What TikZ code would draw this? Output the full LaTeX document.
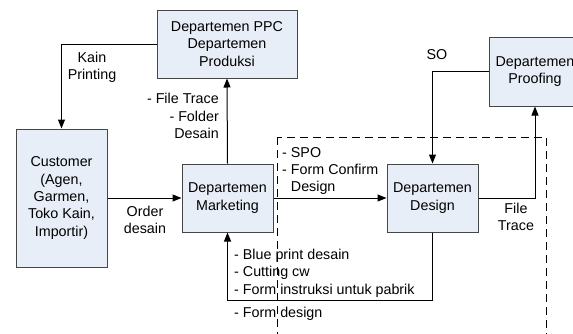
\documentclass[tikz,border=0pt]{standalone}
\usepackage{fontspec}
\setmainfont{Liberation Sans}
\usetikzlibrary{arrows.meta}
\definecolor{boxfill}{RGB}{232,238,247}
\definecolor{boxline}{RGB}{70,70,70}
\tikzset{
  dept/.style={draw=boxline, line width=1pt, fill=boxfill, align=center, inner sep=0pt,
    font=\fontsize{14.3}{17.3}\selectfont},
  lbl/.style={font=\fontsize{14.3}{17.3}\selectfont, inner sep=0pt},
  flow/.style={draw=black, line width=1pt, -{Triangle[length=9pt,width=7pt]}},
  zone/.style={draw=black, line width=1pt, dash pattern=on 8pt off 5pt}
}
\begin{document}
\begin{tikzpicture}[x=1pt,y=-1pt]
\useasboundingbox (0,0) rectangle (573,333);
\clip (0,0) rectangle (573,333);
% nodes
\node[dept, minimum width=140pt, minimum height=68pt] (ppc) at (227,44) {Departemen PPC\\Departemen\\Produksi};
\node[dept, minimum width=91pt, minimum height=138pt] (cust) at (61.5,198) {Customer\\(Agen,\\Garmen,\\Toko Kain,\\Importir)};
\node[dept, minimum width=91pt, minimum height=68pt] (mkt) at (227.5,198) {Departemen\\Marketing};
\node[dept, minimum width=91pt, minimum height=68pt] (des) at (432.5,198) {Departemen\\Design};
\node[dept, minimum width=92pt, minimum height=69pt] (prf) at (535,71.5) {Departemen\\Proofing};
% coordinates
\coordinate (c1) at (61.5,44);
\coordinate (c2) at (432.5,71.5);
\coordinate (c3) at (535,198);
\coordinate (c4) at (432.5,300);
\coordinate (c5) at (227.5,300);
\coordinate (z1) at (277,137);
\coordinate (z2) at (546,345);
% dashed zone
\draw[zone] (z1) rectangle (z2);
% connectors
\draw[flow] (ppc.west) -- (c1) -- (cust.north);
\draw[flow] (mkt.north) -- (ppc.south);
\draw[flow] (cust.east |- mkt.west) -- (mkt.west);
\draw[flow] (mkt.east) -- (des.west);
\draw[flow] (prf.west) -- (c2) -- (des.north);
\draw[flow] (des.east) -- (c3) -- (prf.south);
\draw[flow] (des.south) -- (c4) -- (c5) -- (mkt.south);
% labels
\node[lbl, align=center] (l1) at (92,67) {Kain\\Printing};
\node[lbl, align=right, anchor=east] (l2) at (219,116) {- File Trace\\- Folder\\Desain};
\node[lbl, align=center] (l3) at (145,220) {Order\\desain};
\node[lbl, align=left, anchor=west] (l4) at (282,171) {- SPO\\- Form Confirm\\\hphantom{- }Design};
\node[lbl] (l5) at (437,55) {SO};
\node[lbl, align=center] (l6) at (516,217) {File\\Trace};
\node[lbl, align=left, anchor=west] (l7) at (234,273) {- Blue print desain\\- Cutting cw\\- Form instruksi untuk pabrik};
\node[lbl, anchor=west] (l8) at (234,314) {- Form design};
\end{tikzpicture}
\end{document}
